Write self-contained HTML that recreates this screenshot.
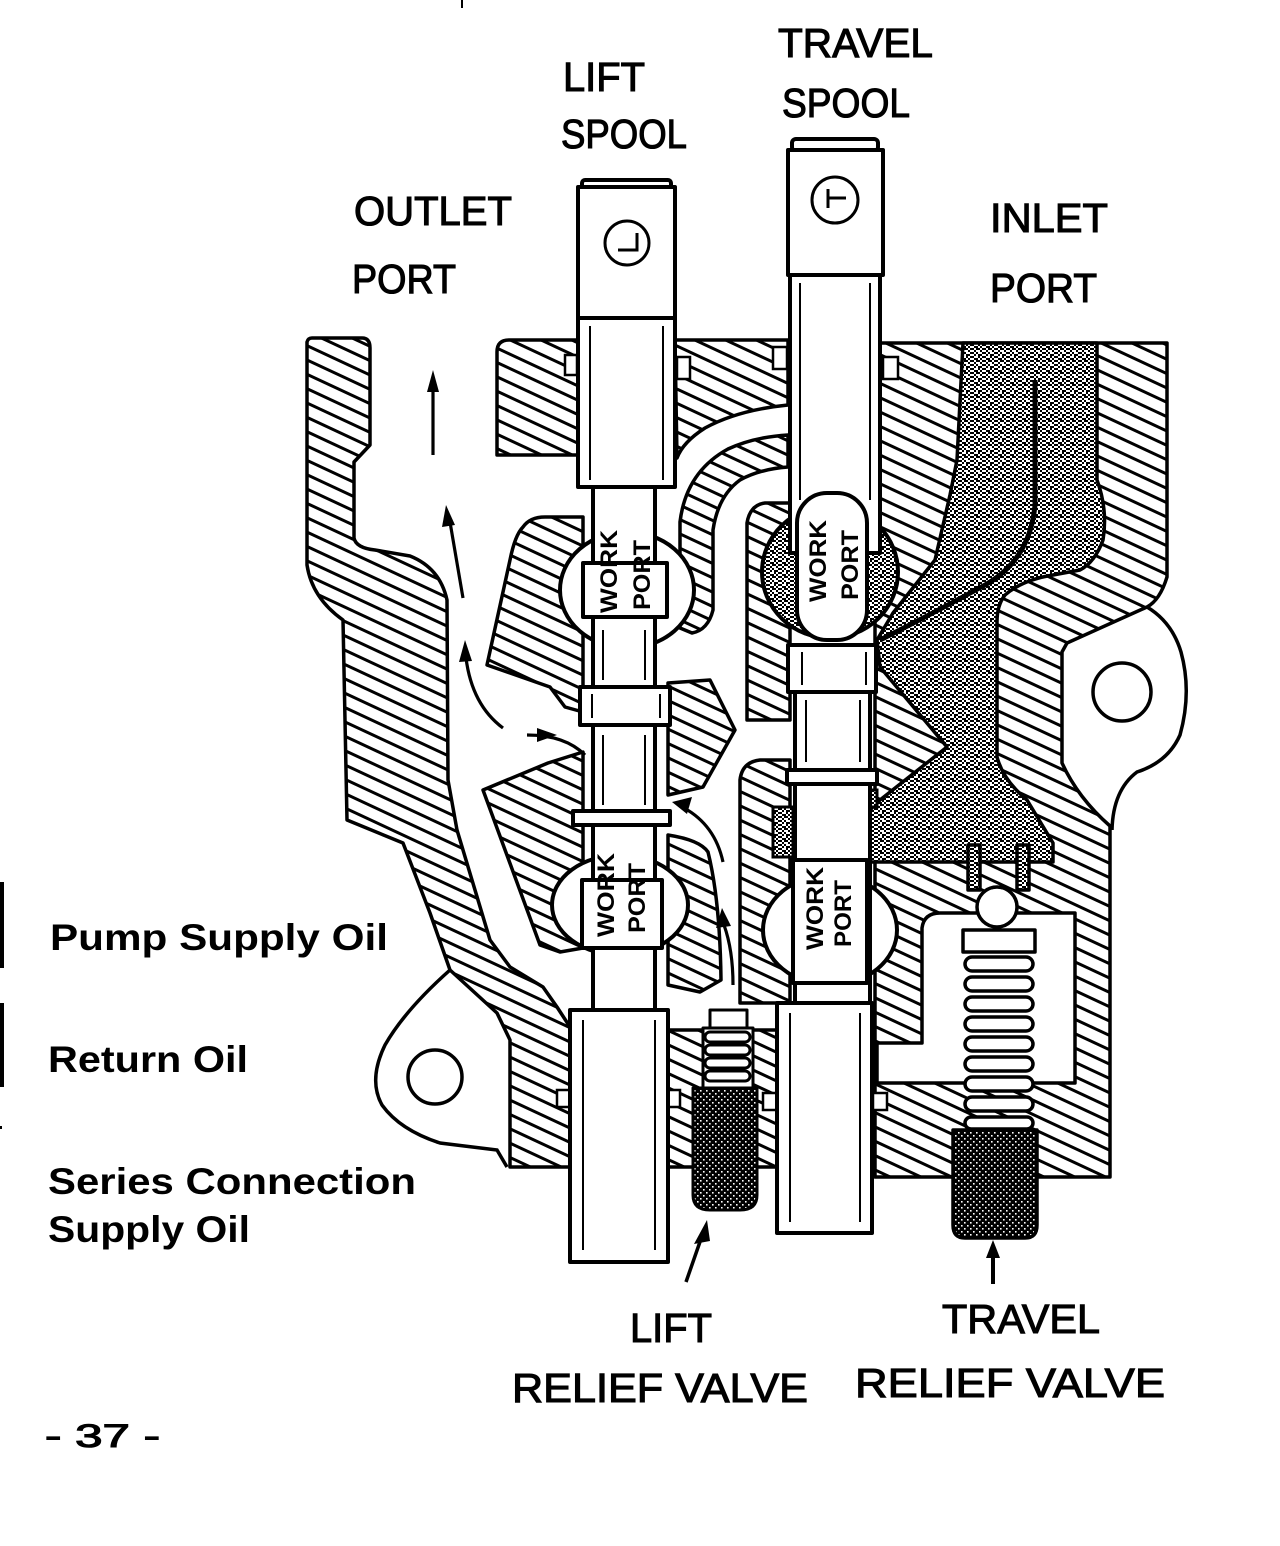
<!DOCTYPE html>
<html><head><meta charset="utf-8">
<style>
html,body{margin:0;padding:0;background:#fff;}
svg{display:block;}
text{font-family:"Liberation Sans",sans-serif;font-weight:bold;fill:#000;}
.lb{font-weight:normal;stroke:#000;stroke-width:1.1px;}
</style></head><body>
<svg width="1280" height="1546" viewBox="0 0 1280 1546" xmlns="http://www.w3.org/2000/svg">
<defs>
<pattern id="h" width="13" height="13" patternUnits="userSpaceOnUse" patternTransform="rotate(25)">
<rect width="13" height="13" fill="#fff"/><rect width="13" height="3" fill="#000"/>
</pattern>
<pattern id="s" width="12" height="12" patternUnits="userSpaceOnUse">
<rect width="12" height="12" fill="#fff"/>
<path d="M0 0h2v2H0zM4 0h4v2H4zM10 0h2v2h-2zM2 2h2v2H2zM8 2h2v2H8zM0 4h2v2H0zM4 4h2v2H4zM10 4h2v2h-2zM2 6h2v2H2zM6 6h4v2H6zM0 8h2v2H0zM6 8h2v2H6zM10 8h2v2h-2zM2 10h4v2H2zM8 10h2v2H8z" fill="#000"/>
</pattern>
<pattern id="d" width="6" height="6" patternUnits="userSpaceOnUse">
<rect width="6" height="6" fill="#000"/><rect x="1" y="1" width="1.6" height="1.6" fill="#fff"/><rect x="4" y="4" width="1.6" height="1.6" fill="#fff"/>
</pattern>
</defs>

<rect width="1280" height="1546" fill="#fff"/>
<line x1="462" y1="0" x2="462" y2="8" stroke="#000" stroke-width="2"/>

<!-- hatched body parts -->
<g stroke="#000" stroke-width="3.5" stroke-linejoin="round" fill="url(#h)">
<path d="M307,342 Q308,338 312,338 L362,338 Q370,338 370,348 L370,445 L354,462 L354,538 Q356,548 375,550 L410,556 Q440,568 447,600 L448,780 L457,830 L490,940 L510,967 L543,987 L557,1007 L570,1027 L570,1167 L510,1167 L510,1040 L497,1013 L450,970 L430,913 L403,843 L347,820 L343,620 Q312,598 307,565 Z"/>
<path d="M509,340 L578,340 L578,455 L497,455 L497,352 Q497,340 509,340 Z"/>
<path d="M675,340 L788,340 L788,405 Q738,410 705,428 Q683,442 677,458 Z"/>
<path d="M680,628 L680,522 Q686,472 728,449 Q754,437 788,435 L788,467 Q760,469 740,480 Q718,496 713,530 L713,610 Q708,630 692,633 Z"/>
<path d="M523,527 Q530,517 545,517 L583,517 L583,712 L565,707 L550,687 L487,665 L510,560 Q515,535 523,527 Z"/>
<path d="M483,790 L548,763 L583,752 L583,948 L560,952 L540,945 Z"/>
<path d="M668,835 Q700,840 708,852 Q720,900 721,980 L700,992 L668,985 Z"/>
<path d="M668,683 L710,680 L735,730 L703,787 L668,795 Z"/>
<path d="M747,720 L747,523 Q750,505 765,503 L790,503 L790,720 Z"/>
<path d="M740,1003 L740,780 Q742,762 760,760 L790,760 L790,1003 Z"/>
<path d="M663,1030 L777,1030 L777,1167 L663,1167 Z"/>
<path d="M875,343 L1167,343 L1167,577 Q1160,600 1147,607 L1067,643 L1062,652 L1062,763 Q1078,798 1110,826 L1110,1177 L875,1177 Z"/>
</g>

<!-- inlet pump supply oil -->
<path d="M963,343 L1097,343 L1097,480 Q1108,510 1103,540 Q1095,562 1080,570 L1053,575 Q1022,580 1005,595 Q997,605 997,622 L997,757 Q1003,780 1027,800 L1053,843 L1053,862 L867,862 L867,813 L880,800 L947,747 L880,667 L877,640 L893,613 L935,560 L950,495 L957,460 Z" fill="url(#s)" stroke="#000" stroke-width="3.5" stroke-linejoin="round"/>
<path d="M1035,380 L1035,505 Q1030,560 985,585 Q930,615 880,640" fill="none" stroke="#000" stroke-width="5"/>

<!-- lugs -->
<g fill="none" stroke="#000" stroke-width="3.5">
<path d="M450,970 Q405,1010 385,1045 Q368,1080 382,1105 Q400,1130 440,1143 L497,1150 L507,1167"/>
<circle cx="435" cy="1077" r="27"/>
<path d="M1147,607 Q1172,622 1181,652 Q1192,692 1180,735 Q1168,762 1137,772 Q1113,790 1112,830"/>
<circle cx="1122" cy="692" r="29"/>
</g>

<!-- travel relief valve chamber -->
<g stroke="#000" stroke-width="3.5" stroke-linejoin="round">
<path d="M922,928 Q924,913 940,913 L1075,913 L1075,1083 L877,1083 L877,1043 L922,1043 Z" fill="#fff"/>
<rect x="968" y="845" width="12" height="45" fill="url(#s)"/>
<rect x="1017" y="845" width="12" height="45" fill="url(#s)"/>
<circle cx="997" cy="907" r="20" fill="#fff"/>
<rect x="963" y="930" width="72" height="22" fill="#fff"/>
<rect x="965" y="957" width="68" height="14" rx="7" fill="#fff"/>
<rect x="965" y="977" width="68" height="14" rx="7" fill="#fff"/>
<rect x="965" y="997" width="68" height="14" rx="7" fill="#fff"/>
<rect x="965" y="1017" width="68" height="14" rx="7" fill="#fff"/>
<rect x="965" y="1037" width="68" height="14" rx="7" fill="#fff"/>
<rect x="965" y="1057" width="68" height="14" rx="7" fill="#fff"/>
<rect x="965" y="1077" width="68" height="14" rx="7" fill="#fff"/>
<rect x="965" y="1097" width="68" height="14" rx="7" fill="#fff"/>
<rect x="965" y="1117" width="68" height="12" rx="6" fill="#fff"/>
<path d="M953,1130 L1037,1130 L1037,1225 Q1037,1238 1025,1238 L965,1238 Q953,1238 953,1225 Z" fill="url(#d)"/>
</g>
<line x1="993" y1="1284" x2="993" y2="1252" stroke="#000" stroke-width="4"/>
<polygon points="993,1240 986,1258 1000,1258" fill="#000"/>

<!-- lift relief valve -->
<g stroke="#000" stroke-width="3" stroke-linejoin="round">
<rect x="703" y="1028" width="50" height="62" fill="#fff"/>
<rect x="710" y="1010" width="37" height="18" fill="#fff"/>
<rect x="705" y="1032" width="45" height="10" rx="5" fill="#fff"/>
<rect x="705" y="1045" width="45" height="10" rx="5" fill="#fff"/>
<rect x="705" y="1058" width="45" height="10" rx="5" fill="#fff"/>
<rect x="705" y="1071" width="45" height="10" rx="5" fill="#fff"/>
<path d="M693,1088 L757,1088 L757,1195 Q757,1210 740,1210 L710,1210 Q693,1210 693,1195 Z" fill="url(#d)"/>
</g>
<line x1="686" y1="1282" x2="702" y2="1236" stroke="#000" stroke-width="3.5"/>
<polygon points="707,1220 694,1244 710,1241" fill="#000"/>

<!-- work port cavities -->
<g stroke="#000" stroke-width="4">
<ellipse cx="627" cy="590" rx="67" ry="58" fill="#fff"/>
<ellipse cx="620" cy="905" rx="68" ry="50" fill="#fff"/>
<ellipse cx="830" cy="572" rx="68" ry="66" fill="url(#s)"/>
<ellipse cx="830" cy="930" rx="67" ry="55" fill="#fff"/>
</g>
<g stroke="#000" stroke-width="3">
<rect x="773" y="807" width="20" height="50" fill="url(#s)"/>
<rect x="860" y="790" width="17" height="17" fill="url(#s)"/>
</g>

<!-- O-ring grooves -->
<g fill="#fff" stroke="#000" stroke-width="2.5">
<rect x="565" y="355" width="12" height="20"/>
<rect x="677" y="357" width="13" height="22"/>
<rect x="773" y="347" width="14" height="22"/>
<rect x="883" y="357" width="15" height="22"/>
<rect x="557" y="1090" width="13" height="17"/>
<rect x="668" y="1090" width="12" height="17"/>
<rect x="763" y="1093" width="14" height="17"/>
<rect x="873" y="1093" width="14" height="17"/>
</g>

<!-- LIFT spool -->
<g stroke="#000" stroke-width="4" fill="#fff" stroke-linejoin="round">
<rect x="582" y="180" width="89" height="9" rx="3"/>
<rect x="578" y="187" width="97" height="131"/>
<rect x="593" y="487" width="62" height="523"/>
<rect x="578" y="318" width="97" height="169"/>
<rect x="583" y="563" width="84" height="54"/>
<rect x="580" y="687" width="90" height="38"/>
<rect x="573" y="811" width="97" height="14"/>
<rect x="582" y="880" width="80" height="68"/>
<rect x="570" y="1010" width="98" height="252"/>
</g>
<g stroke="#000" stroke-width="2" fill="none">
<line x1="590" y1="326" x2="590" y2="480"/><line x1="663" y1="326" x2="663" y2="480"/>
<line x1="603" y1="735" x2="603" y2="805"/><line x1="645" y1="735" x2="645" y2="805"/>
<line x1="603" y1="630" x2="603" y2="680"/><line x1="645" y1="630" x2="645" y2="680"/>
<line x1="592" y1="694" x2="592" y2="718"/><line x1="660" y1="694" x2="660" y2="718"/>
<line x1="583" y1="1020" x2="583" y2="1250"/><line x1="655" y1="1020" x2="655" y2="1250"/>
</g>
<circle cx="627" cy="243" r="22" fill="none" stroke="#000" stroke-width="3"/>
<path d="M637,233 L637,250 L618,250" fill="none" stroke="#000" stroke-width="3"/>

<!-- TRAVEL spool -->
<g stroke="#000" stroke-width="4" fill="#fff" stroke-linejoin="round">
<rect x="792" y="139" width="86" height="12" rx="4"/>
<rect x="788" y="150" width="95" height="125"/>
<rect x="790" y="275" width="90" height="278"/>
<rect x="797" y="493" width="70" height="147" rx="30"/>
<rect x="795" y="692" width="75" height="311"/>
<rect x="788" y="645" width="88" height="47"/>
<rect x="787" y="770" width="90" height="14"/>
<rect x="793" y="860" width="74" height="123"/>
<rect x="777" y="1003" width="95" height="230"/>
</g>
<g stroke="#000" stroke-width="2" fill="none">
<line x1="800" y1="283" x2="800" y2="500"/><line x1="870" y1="283" x2="870" y2="500"/>
<line x1="802" y1="652" x2="802" y2="685"/><line x1="866" y1="652" x2="866" y2="685"/>
<line x1="806" y1="700" x2="806" y2="762"/><line x1="860" y1="700" x2="860" y2="762"/>
<line x1="790" y1="1013" x2="790" y2="1222"/><line x1="860" y1="1013" x2="860" y2="1222"/>
</g>
<circle cx="835" cy="200" r="23" fill="none" stroke="#000" stroke-width="3"/>
<path d="M828,189 L828,208 M828,198 L846,198" fill="none" stroke="#000" stroke-width="3"/>

<!-- WORK PORT labels -->
<g font-size="24">
<text transform="translate(617,613) rotate(-90)" textLength="83" lengthAdjust="spacingAndGlyphs">WORK</text>
<text transform="translate(650,610) rotate(-90)" textLength="70" lengthAdjust="spacingAndGlyphs">PORT</text>
<text transform="translate(614,937) rotate(-90)" textLength="84" lengthAdjust="spacingAndGlyphs">WORK</text>
<text transform="translate(645,933) rotate(-90)" textLength="70" lengthAdjust="spacingAndGlyphs">PORT</text>
<text transform="translate(826,602) rotate(-90)" textLength="82" lengthAdjust="spacingAndGlyphs">WORK</text>
<text transform="translate(858,600) rotate(-90)" textLength="70" lengthAdjust="spacingAndGlyphs">PORT</text>
<text transform="translate(823,950) rotate(-90)" textLength="83" lengthAdjust="spacingAndGlyphs">WORK</text>
<text transform="translate(851,947) rotate(-90)" textLength="67" lengthAdjust="spacingAndGlyphs">PORT</text>
</g>

<!-- flow arrows -->
<g stroke="#000" stroke-width="3.2" fill="none">
<line x1="433" y1="455" x2="433" y2="385"/>
<line x1="463" y1="598" x2="450" y2="522"/>
<path d="M503,728 Q472,705 466,658"/>
<path d="M527,735 Q565,735 585,755"/>
<path d="M723,862 Q715,825 684,808"/>
<path d="M733,985 Q733,950 724,925"/>
</g>
<g fill="#000">
<polygon points="433,370 427,392 439,392"/>
<polygon points="446,505 442,527 455,525"/>
<polygon points="465,640 459,662 472,661"/>
<polygon points="557,735 537,728 537,742"/>
<polygon points="672,802 692,797 687,814"/>
<polygon points="722,908 716,928 731,926"/>
</g>

<!-- legend markers at left edge -->
<rect x="0" y="882" width="4" height="86" fill="#000"/>
<rect x="0" y="1003" width="4" height="84" fill="#000"/>
<rect x="0" y="1126" width="2" height="3" fill="#000"/>

<!-- labels -->
<g font-size="41" class="lb">
<text class="lb" x="778" y="57" textLength="155" lengthAdjust="spacingAndGlyphs">TRAVEL</text>
<text class="lb" x="782" y="117" textLength="128" lengthAdjust="spacingAndGlyphs">SPOOL</text>
<text class="lb" x="563" y="91" textLength="82" lengthAdjust="spacingAndGlyphs">LIFT</text>
<text class="lb" x="561" y="148" textLength="126" lengthAdjust="spacingAndGlyphs">SPOOL</text>
<text class="lb" x="354" y="225" textLength="158" lengthAdjust="spacingAndGlyphs">OUTLET</text>
<text class="lb" x="352" y="293" textLength="104" lengthAdjust="spacingAndGlyphs">PORT</text>
<text class="lb" x="990" y="232" textLength="118" lengthAdjust="spacingAndGlyphs">INLET</text>
<text class="lb" x="990" y="302" textLength="107" lengthAdjust="spacingAndGlyphs">PORT</text>
<text class="lb" x="630" y="1342" textLength="82" lengthAdjust="spacingAndGlyphs">LIFT</text>
<text class="lb" x="512" y="1402" textLength="296" lengthAdjust="spacingAndGlyphs">RELIEF VALVE</text>
<text class="lb" x="942" y="1333" textLength="158" lengthAdjust="spacingAndGlyphs">TRAVEL</text>
<text class="lb" x="855" y="1397" textLength="310" lengthAdjust="spacingAndGlyphs">RELIEF VALVE</text>
</g>
<g font-size="37">
<text x="50" y="950" textLength="338" lengthAdjust="spacingAndGlyphs">Pump Supply Oil</text>
<text x="48" y="1072" textLength="200" lengthAdjust="spacingAndGlyphs">Return Oil</text>
<text x="48" y="1194" textLength="368" lengthAdjust="spacingAndGlyphs">Series Connection</text>
<text x="48" y="1242" textLength="202" lengthAdjust="spacingAndGlyphs">Supply Oil</text>
</g>
<text class="lb" x="45" y="1447" font-size="32" textLength="115" lengthAdjust="spacingAndGlyphs">- 37 -</text>
</svg>
</body></html>
